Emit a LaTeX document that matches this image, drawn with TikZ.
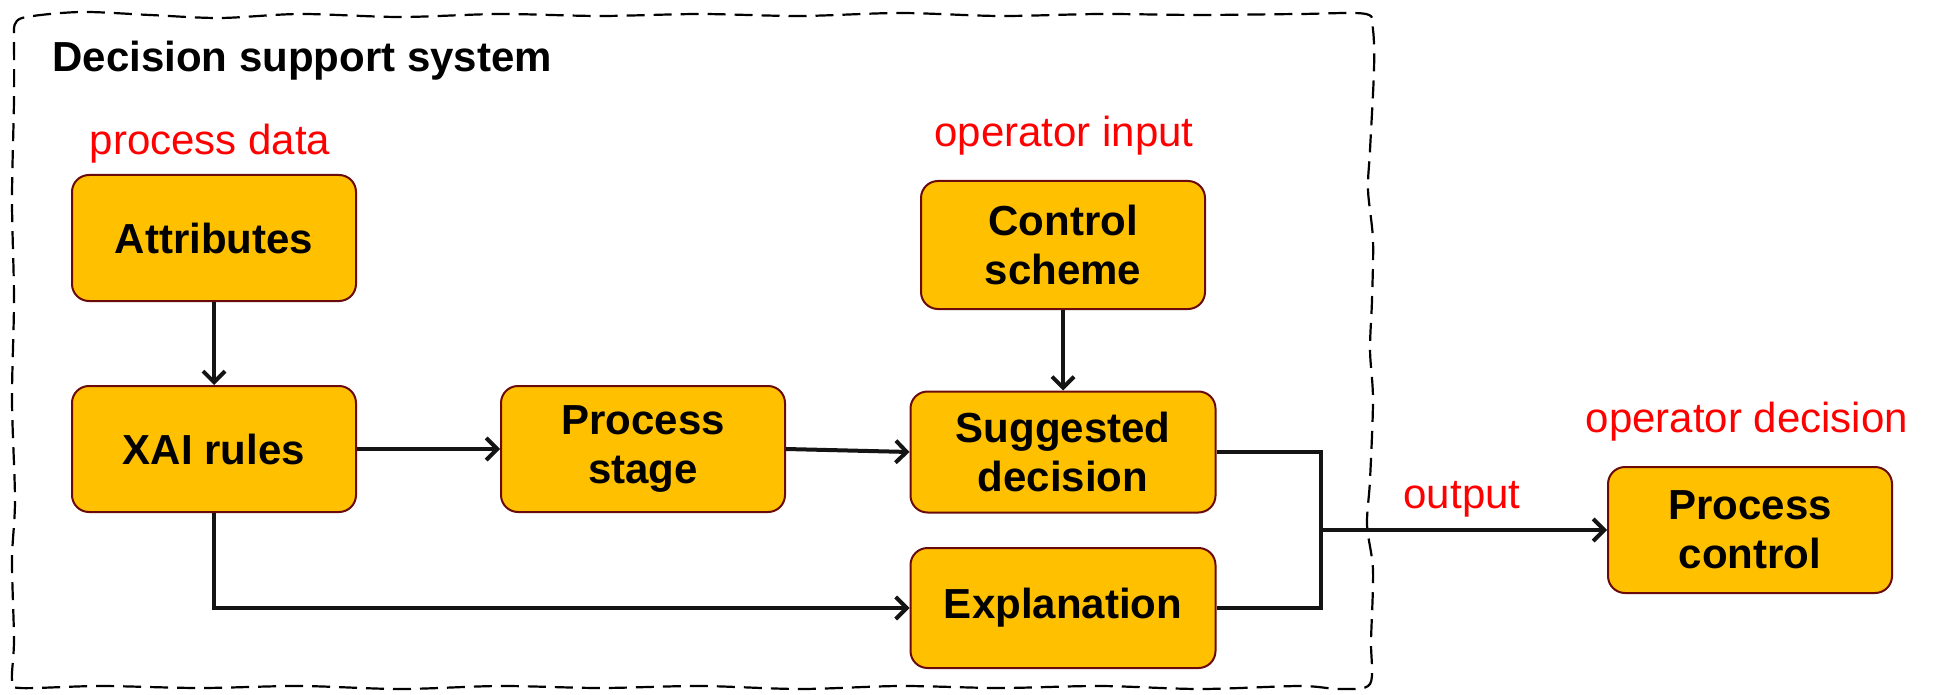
\documentclass[tikz,border=0pt]{standalone}
\usepackage{fontspec}
\setmainfont{Liberation Sans}
\usetikzlibrary{arrows.meta}
\definecolor{boxfill}{HTML}{FFC000}
\definecolor{boxline}{HTML}{6B0A0A}
\begin{document}
\begin{tikzpicture}[x=0.5pt,y=-0.5pt,
  blk/.style={draw=boxline,line width=1pt,fill=boxfill,rounded corners=8.5pt,
    minimum width=#1,minimum height=63pt,align=center,inner sep=0pt,
    font=\fontsize{21}{24.5}\selectfont\bfseries},
  blk/.default=142pt,
  redlbl/.style={text=red,font=\fontsize{21}{25}\selectfont,inner sep=0pt},
  conn/.style={line width=2pt,black!92},
  arr/.style={conn,-{Straight Barb[length=5.5pt,width=11pt,line width=2pt]}},
  frame/.style={black,line width=1.1pt,dash pattern=on 9pt off 4.5pt}]
\useasboundingbox (0,0) rectangle (1936,695);
% dashed frame
\draw[frame] plot[smooth,tension=0.5] coordinates {
 (14,30) (22,18) (80,12) (150,15) (220,18) (300,14) (400,17) (500,14) (600,16) (700,14)
 (800,16) (900,13) (1000,16) (1100,14) (1200,15) (1300,14) (1366,14)
 (1373,30) (1374,70) (1370,150) (1368,190) (1373,240) (1372,300) (1370,350) (1373,400)
 (1370,480) (1367,525) (1373,570) (1371,640) (1370,684)
 (1340,689) (1300,686) (1200,689) (1100,686) (1000,688) (900,686) (800,689) (700,686)
 (600,688) (500,686) (400,689) (300,686) (200,688) (100,686) (20,688) (12,680)
 (14,640) (12,560) (15,500) (12,400) (14,300) (12,200) (14,100) (14,30)};
\node[anchor=west,inner sep=0pt,font=\fontsize{21}{25}\selectfont\bfseries] (title) at (52,61) {Decision support system};
% boxes
\node[blk] (attr) at (214,238) {Attributes};
\node[blk] (xai) at (214,449) {XAI rules};
\node[blk] (ps) at (643,449) {Process\\stage};
\node[blk,minimum height=64pt] (cs) at (1063,245) {Control\\scheme};
\node[blk=152.5pt,minimum height=60.5pt] (sd) at (1063,452) {Suggested\\decision};
\node[blk=152.5pt,minimum height=60pt] (ex) at (1063,608) {Explanation};
\node[blk] (pc) at (1750,530) {Process\\control};
% red labels
\node[redlbl] (lpd) at (210,144) {process data};
\node[redlbl] (loi) at (1064,136) {operator input};
\node[redlbl] (lod) at (1747,422) {operator decision};
\node[redlbl] (lout) at (1462,499) {output};
% connectors
\coordinate (j) at (1321,530);
\draw[arr] (attr) -- (xai);
\draw[arr] (xai) -- (ps);
\draw[arr] (ps.east) -- (sd.west);
\draw[arr] (cs) -- (sd);
\draw[arr] (xai.south) |- (ex.west);
\draw[conn] (sd.east) -| (j) |- (ex.east);
\draw[arr] (j) -- (pc.west);
\end{tikzpicture}
\end{document}
